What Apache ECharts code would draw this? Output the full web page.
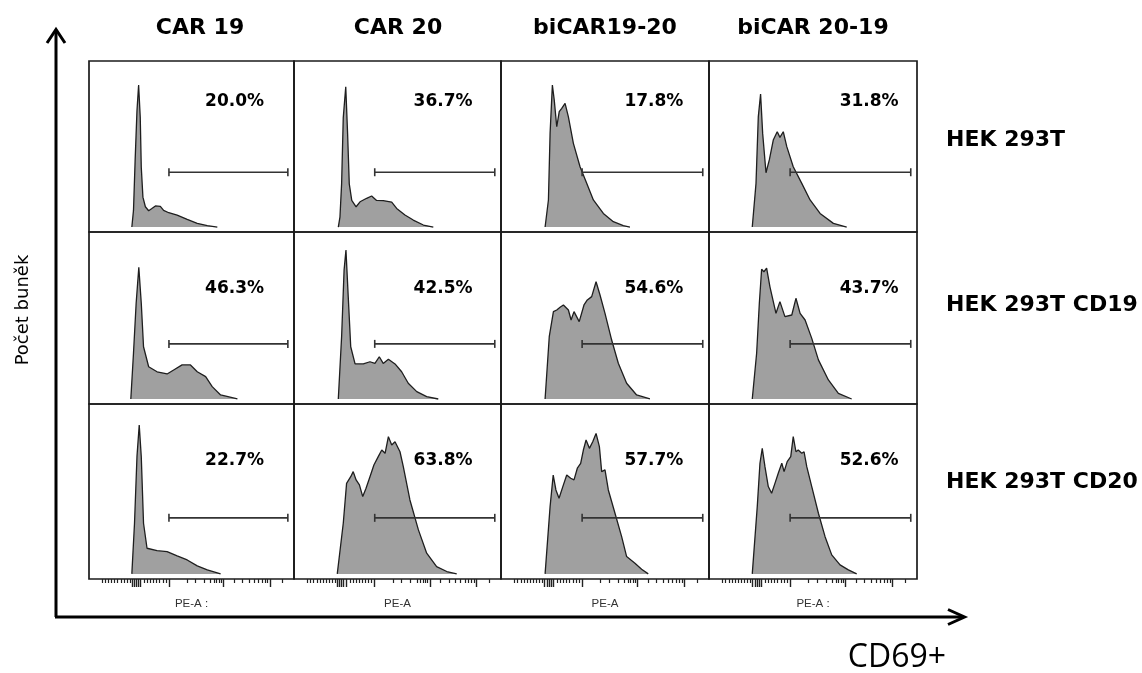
<!DOCTYPE html>
<html>
<head>
<meta charset="utf-8">
<title>CD69+</title>
<script src="https://cdn.jsdelivr.net/npm/echarts@6/dist/echarts.min.js"></script>
<style>
html, body { margin: 0; padding: 0; background: #fff; }
#main { width: 1142px; height: 673px; }
</style>
</head>
<body>
<div id="main"></div>
<script>
// columns = CAR constructs, rows = target cell lines
var carNames = ['CAR 19', 'CAR 20', 'biCAR19-20', 'biCAR 20-19'];
var cellLines = ['HEK 293T', 'HEK 293T CD19', 'HEK 293T CD20'];
var axisNames = ['PE-A :', 'PE-A', 'PE-A', 'PE-A :'];

// % of cells in the CD69+ gate
var pctHek = ['20.0%', '36.7%', '17.8%', '31.8%'];
var pctCd19 = ['46.3%', '42.5%', '54.6%', '43.7%'];
var pctCd20 = ['22.7%', '63.8%', '57.7%', '52.6%'];

// gate on PE-A (start, end) and its height
var gate = [39, 97];
var gateLevel = 33;

// histograms: [PE-A position, relative count]
var hek_car19 = [[20.9,0],[21.7,10],[22.5,40],[23.4,70],[24.2,85.5],[25.0,66],[25.5,36],[26.3,18],[27.5,12.2],[29.1,9.8],[30.5,11],[32.4,12.7],[34.8,12.4],[36.4,10],[38.9,8.6],[43,7.2],[47.9,4.6],[52.8,2.2],[57.7,0.8],[62.6,0]];
var hek_car20 = [[21.4,0],[22.2,6],[23.0,26],[23.8,66],[25.0,84.5],[25.9,56],[26.7,26],[27.9,16],[30.0,12.2],[31.9,15.2],[35.1,17.3],[37.5,18.7],[39.9,16],[43.1,15.9],[47.2,15],[49.6,11.2],[53.6,7.2],[57.6,4.2],[62.5,1.2],[67.3,0]];
var hek_bi1920 = [[21.2,0],[22.8,16.3],[23.6,56.4],[24.7,85.5],[25.6,76.5],[26.8,60.4],[28.0,69.5],[29.2,71.5],[30.8,74.5],[32.4,66.4],[34.8,50.4],[38.0,36.3],[41.2,26.3],[44.4,16.3],[49.2,8.2],[54.0,3.2],[58.8,0.8],[62.0,0]];
var hek_bi2019 = [[20.8,0],[22.6,26.3],[23.7,66.4],[24.8,80.1],[25.8,56.4],[27.4,32.7],[29.0,40.4],[30.9,52.4],[32.8,57.4],[34.1,54],[35.7,57.4],[37.4,48.4],[40.5,36.3],[44.6,26.3],[48.6,16.3],[53.4,8.2],[59.8,2.2],[66.2,0]];

var cd19_car19 = [[20.4,0],[21.7,27.4],[23.0,57.3],[24.3,78.9],[25.5,57.3],[26.6,31.3],[29.1,19.3],[33.2,16.3],[38.1,15],[41.3,17.4],[45.4,20.4],[49.5,20.4],[52.8,16.3],[56.9,13.4],[60.1,7.4],[64.2,2.4],[72.4,0]];
var cd19_car20 = [[21.4,0],[23.0,37.3],[24.2,77.2],[25.1,89.2],[26.2,61.3],[27.4,31.3],[29.5,21],[33.5,21],[36.7,22.3],[39.1,21.3],[41.2,25.3],[43.1,21.3],[45.6,23.8],[48.8,21],[52.0,16.3],[55.2,9.4],[59.3,4.4],[64.1,1.4],[69.7,0]];
var cd19_bi1920 = [[21.2,0],[23.2,37.3],[25.2,52.3],[26.8,53.3],[28.4,54.9],[30.0,56.3],[32.4,53.3],[33.7,47.3],[35.1,52.3],[37.6,46.3],[39.9,56.3],[41.5,59.3],[43.6,61.3],[45.7,70.2],[47.6,62.3],[50.0,51.3],[53.2,35.3],[56.4,21.4],[60.4,9.4],[65.2,2.4],[71.6,0]];
var cd19_bi2019 = [[20.8,0],[22.9,27.4],[24.2,57.3],[25.3,77.7],[26.4,76.2],[27.7,78.3],[29.3,67.2],[32.2,51.3],[34.1,58.3],[36.5,49.3],[39.8,50.3],[41.8,60.3],[43.8,51.3],[46.2,47.3],[49.4,36.3],[52.6,23.4],[57.4,11.4],[62.2,3.4],[68.6,0]];

var cd20_car19 = [[20.9,0],[22.2,29.8],[23.4,69],[24.5,87.6],[25.5,69],[26.6,29.8],[28.3,15.1],[33.2,13.7],[38.1,13.1],[43.0,10.6],[47.9,8.2],[52.8,4.7],[57.7,2.4],[64.2,0]];
var cd20_car20 = [[20.9,0],[23.8,29.8],[25.4,53.3],[27.4,57.2],[28.6,60.2],[30.0,55.3],[31.6,52.4],[33.2,45.5],[34.8,50.4],[36.7,57.2],[38.6,64.1],[40.7,69],[42.4,72.9],[44.0,71],[45.6,80.8],[47.2,75.9],[48.8,77.8],[51.2,71.9],[52.8,63.1],[56.0,43.5],[60.1,25.9],[64.1,12.2],[68.9,4.3],[73.8,1.4],[78.6,0]];
var cd20_bi1920 = [[21.2,0],[23.6,39.6],[25.1,58.2],[26.4,49.4],[27.9,44.5],[30.0,52.4],[31.6,58.2],[33.5,56.3],[35.1,55.3],[36.7,62.2],[38.3,65.1],[39.6,72.9],[40.9,78.8],[42.5,73.9],[44.1,77.8],[45.7,82.7],[47.3,74.9],[48.4,60.2],[50.0,61.2],[51.6,49.4],[54.8,35.7],[58.0,21.9],[60.4,10.2],[64.4,6.3],[67.6,2.7],[70.8,0]];
var cd20_bi2019 = [[20.8,0],[23.2,39.6],[24.5,65.1],[25.6,73.9],[26.9,63.1],[28.5,51.4],[30.1,47.5],[31.7,53.3],[33.3,59.2],[35.0,65.1],[36.1,60.2],[37.6,66.1],[39.3,69],[40.5,80.8],[41.8,71.9],[42.9,72.9],[44.6,71],[45.7,71.9],[47.0,63.1],[49.4,51.4],[52.6,35.7],[55.8,21.9],[59.0,11.2],[63.0,5.3],[67.0,2.4],[71.0,0]];

// PE-A axis ticks (bottom row)
var minorTicks = [6.5, 8, 9.5, 11, 12.5, 14, 15.5, 17, 18.5, 20, 27, 28.5, 30, 31.5, 33, 34.5, 36, 37.5, 47.9, 52, 56.4, 59.3, 61, 62.3, 63.5, 64.6, 70.7, 74.8, 78.1, 80.5, 82.5, 84.3, 85.8, 87.1, 94.5];
var majorTicks = [21, 22, 23, 24, 25, 39, 65.7, 88.2];

window.onload = function () {
	var chart = echarts.init(document.getElementById('main'));

	var histos = [
		[hek_car19, hek_car20, hek_bi1920, hek_bi2019],
		[cd19_car19, cd19_car20, cd19_bi1920, cd19_bi2019],
		[cd20_car19, cd20_car20, cd20_bi1920, cd20_bi2019]
	];
	var pcts = [pctHek, pctCd19, pctCd20];

	// layout of the 3x4 panel
	var colEdges = [89, 294, 501, 709, 917];
	var rowEdges = [61, 232, 404, 579];
	var pctX = [71, 72, 73.5, 77];
	var pctY = [75.5, 66, 66.5];

	var grids = [], xAxes = [], yAxes = [], series = [], majorAxes = [];

	for (var r = 0; r < 3; r++) {
		for (var c = 0; c < 4; c++) {
			var idx = r * 4 + c;
			var bottom = (r === 2);
			grids.push({
				left: colEdges[c],
				top: rowEdges[r],
				width: colEdges[c + 1] - colEdges[c],
				height: rowEdges[r + 1] - rowEdges[r],
				show: true,
				borderColor: '#1b1b1b',
				borderWidth: 1.7,
				backgroundColor: 'transparent'
			});
			xAxes.push({
				gridIndex: idx,
				type: 'value',
				position: 'bottom',
				min: 0,
				max: 100,
				show: bottom,
				axisLine: { show: false, onZero: false },
				splitLine: { show: false },
				axisLabel: { show: false },
				axisTick: {
					show: true,
					inside: false,
					customValues: minorTicks,
					length: 4,
					lineStyle: { color: '#222', width: 1.2 }
				},
				name: bottom ? axisNames[c] : '',
				nameLocation: 'middle',
				nameGap: 19,
				nameTextStyle: { fontFamily: 'Liberation Sans', fontSize: 11.5, color: '#333' }
			});
			if (bottom) {
				majorAxes.push({
					gridIndex: idx,
					type: 'value',
					position: 'bottom',
					offset: 0,
					min: 0,
					max: 100,
					axisLine: { show: false, onZero: false },
					splitLine: { show: false },
					axisLabel: { show: false },
					axisTick: {
						show: true,
						inside: false,
						customValues: majorTicks,
						length: 8,
						lineStyle: { color: '#222', width: 1.4 }
					}
				});
			}
			yAxes.push({
				gridIndex: idx,
				type: 'value',
				min: -3,
				max: 100,
				show: false
			});

			series.push({
				type: 'line',
				xAxisIndex: idx,
				yAxisIndex: idx,
				data: histos[r][c],
				symbol: 'none',
				silent: true,
				z: 2,
				lineStyle: { color: '#1e1e1e', width: 1.3 },
				areaStyle: { color: '#a0a0a0', opacity: 1 }
			});
			series.push({
				type: 'line',
				xAxisIndex: idx,
				yAxisIndex: idx,
				data: [[gate[0], gateLevel], [gate[1], gateLevel]],
				symbol: 'rect',
				symbolSize: [1.6, 8],
				silent: true,
				z: 3,
				itemStyle: { color: '#333' },
				lineStyle: { color: '#333', width: 1.6 }
			});
			series.push({
				type: 'scatter',
				xAxisIndex: idx,
				yAxisIndex: idx,
				data: [[pctX[c], pctY[r]]],
				symbolSize: 0,
				silent: true,
				z: 4,
				itemStyle: { color: '#000', opacity: 1 },
				label: {
					show: true,
					position: 'inside',
					formatter: pcts[r][c],
					fontFamily: 'DejaVu Sans',
					fontWeight: 'bold',
					fontSize: 17,
					color: '#000',
					textBorderWidth: 0,
					opacity: 1
				}
			});
		}
	}

	var graphics = [];
	var titleX = [200, 398, 605, 813];
	for (var i = 0; i < carNames.length; i++) {
		graphics.push({
			type: 'text', x: titleX[i], y: 28,
			style: { text: carNames[i], fontFamily: 'DejaVu Sans', fontWeight: 'bold', fontSize: 22, fill: '#000', textAlign: 'center', textVerticalAlign: 'middle' }
		});
	}
	var rowY = [140, 305, 482];
	for (var j = 0; j < cellLines.length; j++) {
		graphics.push({
			type: 'text', x: 946, y: rowY[j],
			style: { text: cellLines[j], fontFamily: 'DejaVu Sans', fontWeight: 'bold', fontSize: 22, fill: '#000', textAlign: 'left', textVerticalAlign: 'middle' }
		});
	}
	graphics.push({
		type: 'text', x: 23, y: 310, rotation: Math.PI / 2,
		style: { text: 'Počet buněk', fontFamily: 'DejaVu Sans', fontSize: 18, fill: '#000', textAlign: 'center', textVerticalAlign: 'middle' }
	});
	graphics.push({
		type: 'text', x: 897, y: 658,
		style: { text: 'CD69+', fontFamily: 'Open Sans', fontSize: 32, fill: '#000', textAlign: 'center', textVerticalAlign: 'middle' }
	});
	// axis arrows
	graphics.push({
		type: 'polyline',
		shape: { points: [[56, 617], [56, 31]] },
		style: { stroke: '#000', lineWidth: 3, fill: null }
	});
	graphics.push({
		type: 'polyline',
		shape: { points: [[47, 43], [56, 29.5], [65, 43]] },
		style: { stroke: '#000', lineWidth: 3, fill: null }
	});
	graphics.push({
		type: 'polyline',
		shape: { points: [[55, 617], [962, 617]] },
		style: { stroke: '#000', lineWidth: 3, fill: null }
	});
	graphics.push({
		type: 'polyline',
		shape: { points: [[948, 609.5], [964.5, 617], [948, 624.5]] },
		style: { stroke: '#000', lineWidth: 3, fill: null }
	});

	var option = {
		animation: false,
		backgroundColor: '#fff',
		grid: grids,
		xAxis: xAxes.concat(majorAxes),
		yAxis: yAxes,
		series: series,
		graphic: graphics
	};
	chart.setOption(option);
};
</script>
</body>
</html>
